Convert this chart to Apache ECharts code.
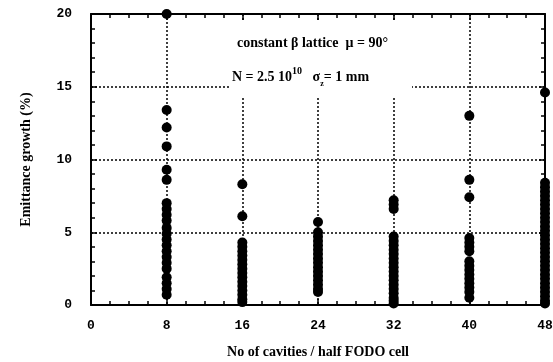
<!DOCTYPE html>
<html>
<head>
<meta charset="utf-8">
<script src="https://cdn.jsdelivr.net/npm/echarts@6/dist/echarts.min.js"></script>
<style>
html,body{margin:0;padding:0;background:#fff}
#c{width:553px;height:362px}
</style>
</head>
<body>
<div id="c"></div>
<script>
// Emittance growth (%) for each machine, grouped by number of cavities per half FODO cell
const cavities = [8, 16, 24, 32, 40, 48];
const growth8  = [20, 13.4, 12.2, 10.9, 9.3, 8.6, 7.0, 6.6, 6.2, 5.8, 5.3, 4.9, 4.5, 4.1, 3.7, 3.3, 2.9, 2.5, 1.9, 1.5, 1.1, 0.7];
const growth16 = [8.3, 6.1, 4.3, 4.0, 3.7, 3.4, 3.1, 2.8, 2.5, 2.2, 1.9, 1.6, 1.3, 1.0, 0.7, 0.4, 0.2];
const growth24 = [5.7, 5.0, 4.7, 4.4, 4.1, 3.8, 3.5, 3.2, 2.9, 2.6, 2.3, 2.0, 1.7, 1.4, 1.1, 0.9];
const growth32 = [7.2, 6.9, 6.6, 4.7, 4.4, 4.1, 3.8, 3.5, 3.2, 2.9, 2.6, 2.3, 2.0, 1.7, 1.4, 1.1, 0.8, 0.5, 0.3, 0.1];
const growth40 = [13.0, 8.6, 7.4, 4.6, 4.3, 4.0, 3.7, 3.0, 2.7, 2.4, 2.1, 1.8, 1.5, 1.2, 0.9, 0.5];
const growth48 = [14.6, 8.4, 8.1, 7.8, 7.5, 7.2, 6.9, 6.6, 6.3, 6.0, 5.7, 5.4, 5.1, 4.8, 4.5, 4.2, 3.9, 3.6, 3.3, 3.0, 2.7, 2.4, 2.1, 1.8, 1.5, 1.2, 0.9, 0.6, 0.3, 0.1];
const xTicks = [0, 8, 16, 24, 32, 40, 48];
const yTicks = [0, 5, 10, 15, 20];

const groups = [growth8, growth16, growth24, growth32, growth40, growth48];
const points = [];
groups.forEach((vals, i) => vals.forEach(v => points.push([cavities[i], v])));

const serif = 'Liberation Serif';
const mono = 'Liberation Mono';

const chart = echarts.init(document.getElementById('c'), null, {renderer: 'canvas'});

const axisLine = {show: true, onZero: false, lineStyle: {color: '#000', width: 2}};
const dotted = {show: true, lineStyle: {color: '#000', width: 1.5, type: [2, 2]}};
const tick = {show: true, inside: true, length: 6, lineStyle: {color: '#000', width: 1.5}};

chart.setOption({
  animation: false,
  backgroundColor: '#fff',
  grid: {left: 91, right: 8, top: 14, bottom: 57, containLabel: false, outerBoundsMode: 'none'},
  xAxis: [{
    type: 'value', min: xTicks[0], max: xTicks[xTicks.length - 1], interval: 8,
    position: 'bottom',
    name: 'No of cavities / half FODO cell', nameLocation: 'middle', nameGap: 40,
    nameTextStyle: {fontFamily: serif, fontWeight: 'bold', fontSize: 14, color: '#000'},
    axisLine: axisLine,
    axisTick: tick,
    minorTick: {show: true, splitNumber: 4, length: 4, lineStyle: {color: '#000', width: 1.5}},
    axisLabel: {margin: 14, fontFamily: mono, fontWeight: 'bold', fontSize: 13, color: '#000'},
    splitLine: dotted
  }, {
    type: 'value', min: xTicks[0], max: xTicks[xTicks.length - 1], interval: 8,
    position: 'top',
    axisLine: axisLine,
    axisTick: tick,
    minorTick: {show: true, splitNumber: 4, length: 4, lineStyle: {color: '#000', width: 1.5}},
    axisLabel: {show: false},
    splitLine: {show: false}
  }],
  yAxis: [{
    type: 'value', min: yTicks[0], max: yTicks[yTicks.length - 1], interval: 5,
    position: 'left',
    name: 'Emittance growth (%)', nameLocation: 'middle', nameGap: 58,
    nameTextStyle: {fontFamily: serif, fontWeight: 'bold', fontSize: 14, color: '#000'},
    axisLine: axisLine,
    axisTick: tick,
    minorTick: {show: true, splitNumber: 5, length: 4, lineStyle: {color: '#000', width: 1.5}},
    axisLabel: {margin: 19, fontFamily: mono, fontWeight: 'bold', fontSize: 13, color: '#000'},
    splitLine: dotted
  }, {
    type: 'value', min: yTicks[0], max: yTicks[yTicks.length - 1], interval: 5,
    position: 'right',
    axisLine: axisLine,
    axisTick: tick,
    minorTick: {show: true, splitNumber: 5, length: 4, lineStyle: {color: '#000', width: 1.5}},
    axisLabel: {show: false},
    splitLine: {show: false}
  }],
  graphic: [{
    type: 'rect', z: 100,
    shape: {x: 229, y: 22, width: 183, height: 75},
    style: {fill: '#fff'}
  }, {
    type: 'text', z: 101, left: 237, top: 36,
    style: {
      text: 'constant β lattice  μ = 90°',
      font: 'bold 14px "Liberation Serif"', fill: '#000'
    }
  }, {
    type: 'text', z: 101, left: 232, top: 66,
    style: {
      text: '{t|N = 2.5 10}{sup|10}{t|   σ}{sub|z}{t|= 1 mm}',
      rich: {
        t: {font: 'bold 14px "Liberation Serif"', fill: '#000', lineHeight: 22, verticalAlign: 'middle'},
        sup: {font: 'bold 10px "Liberation Serif"', fill: '#000', lineHeight: 22, verticalAlign: 'top'},
        sub: {font: 'bold 8px "Liberation Serif"', fill: '#000', lineHeight: 22, verticalAlign: 'bottom'}
      }
    }
  }],
  series: [{
    type: 'scatter',
    xAxisIndex: 0, yAxisIndex: 0,
    data: points,
    symbol: 'circle',
    symbolSize: 10,
    clip: false,
    itemStyle: {color: '#000', opacity: 1},
    z: 3
  }]
});
</script>
</body>
</html>
